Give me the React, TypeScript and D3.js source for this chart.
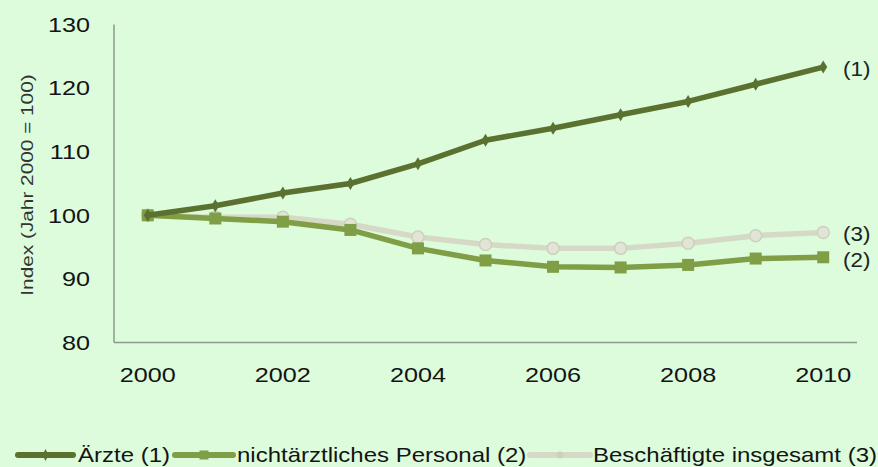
import React from "react";
import * as d3 from "d3";

const years = ["2000","2001","2002","2003","2004","2005","2006","2007","2008","2009","2010"];
const aerzte = [100, 101.5, 103.5, 105.0, 108.1, 111.8, 113.7, 115.8, 117.9, 120.6, 123.3];
const nichtAerztlich = [100, 99.5, 99.0, 97.7, 94.8, 92.9, 91.9, 91.8, 92.2, 93.2, 93.4];
const gesamt = [100, 99.7, 99.7, 98.6, 96.6, 95.4, 94.8, 94.8, 95.6, 96.8, 97.3];
const yTicks = [80, 90, 100, 110, 120, 130];
const xTickLabels = ["2000","2002","2004","2006","2008","2010"];
const seriesNames = ["Ärzte (1)", "nichtärztliches Personal (2)", "Beschäftigte insgesamt (3)"];
const endLabels = ["(1)", "(2)", "(3)"];

const W = 878, H = 467;
const left = 114, right = 857, top = 24.5, bottom = 342.5;
const FONT = "Liberation Sans, Arial, sans-serif";

function SText(props: { x: number; y: number; sx: number; size: number; anchor?: string; fill?: string; rotate?: number; children: React.ReactNode }) {
  const { x, y, sx, size, anchor = "start", fill = "#141414", rotate = 0, children } = props;
  return (
    <text transform={`translate(${x},${y}) rotate(${rotate}) scale(${sx},1)`} textAnchor={anchor} dy="0.35em" fontFamily={FONT} fontSize={size} fill={fill}>{children}</text>
  );
}

export default function App() {
  const x = d3.scaleBand<string>().domain(years).range([left, right]).padding(0);
  const cx = (yr: string) => (x(yr) as number) + x.bandwidth() / 2;
  const y = d3.scaleLinear().domain([80, 130]).range([bottom, top]);
  const line = d3.line<number>().x((_, i) => cx(years[i])).y((d) => y(d));

  const cols = ["#5a7130", "#7f9e45", "#d6d9c6"];
  const data = [aerzte, nichtAerztlich, gesamt];

  const diamond = (px: number, py: number, c: string, k: number) => (
    <path key={k} d={`M${px},${py - 6.5}L${px + 4},${py}L${px},${py + 6.5}L${px - 4},${py}Z`} fill={c} />
  );
  const square = (px: number, py: number, c: string, k: number) => (
    <rect key={k} x={px - 6} y={py - 6} width={12} height={12} fill={c} />
  );
  const circle = (px: number, py: number, c: string, k: number) => (
    <circle key={k} cx={px} cy={py} r={6} fill="#e2e4d6" stroke="#cdd1bc" strokeWidth={1.5} />
  );
  const markers = [diamond, square, circle];

  const legendItems = [
    { x1: 18, x2: 73, tx: 78, sx: 1.2 },
    { x1: 175, x2: 233, tx: 237, sx: 1.2 },
    { x1: 530, x2: 590, tx: 593, sx: 1.2 },
  ];
  const legendY = 455;

  return (
    <svg width={W} height={H} style={{ display: "block", position: "absolute", left: 0, top: 0 }}>
      <rect x={0} y={0} width={W} height={H} fill="#dcfcdc" />
      <line x1={left} x2={left} y1={top} y2={bottom} stroke="#8c9a8c" strokeWidth={1.5} />
      <line x1={left} x2={right} y1={bottom} y2={bottom} stroke="#8c9a8c" strokeWidth={1.5} />
      {yTicks.map((t) => (
        <SText key={t} x={90} y={y(t)} sx={1.2} size={21} anchor="end">{t}</SText>
      ))}
      {xTickLabels.map((t) => (
        <SText key={t} x={cx(t)} y={375} sx={1.2} size={21} anchor="middle">{t}</SText>
      ))}
      <SText x={27} y={185} sx={1.3} size={16} anchor="middle" rotate={-90} fill="#333">Index (Jahr 2000 = 100)</SText>
      {[2, 1, 0].map((si) => (
        <g key={si}>
          <path d={line(data[si]) || ""} fill="none" stroke={cols[si]} strokeWidth={5.5} strokeLinejoin="round" />
          {data[si].map((v, i) => markers[si](cx(years[i]), y(v), cols[si], i))}
        </g>
      ))}
      <SText x={843} y={y(aerzte[10]) + 2} sx={1.12} size={20} fill="#222">{endLabels[0]}</SText>
      <SText x={843} y={y(nichtAerztlich[10]) + 3} sx={1.12} size={20} fill="#222">{endLabels[1]}</SText>
      <SText x={843} y={y(gesamt[10]) + 2} sx={1.12} size={20} fill="#222">{endLabels[2]}</SText>
      {legendItems.map((it, i) => {
        const mx = (it.x1 + it.x2) / 2;
        return (
          <g key={i}>
            <line x1={it.x1} x2={it.x2} y1={legendY} y2={legendY} stroke={cols[i]} strokeWidth={6} strokeLinecap="round" />
            {i === 2
              ? <circle cx={mx} cy={legendY} r={3.5} fill="#cdd1bc" />
              : i === 1
                ? <rect x={mx - 4.5} y={legendY - 4.5} width={9} height={9} fill={cols[i]} />
                : <path d={`M${mx},${legendY - 6}L${mx + 3},${legendY}L${mx},${legendY + 6}L${mx - 3},${legendY}Z`} fill={cols[i]} />}
            <SText x={it.tx} y={legendY} sx={it.sx} size={20}>{seriesNames[i]}</SText>
          </g>
        );
      })}
    </svg>
  );
}
